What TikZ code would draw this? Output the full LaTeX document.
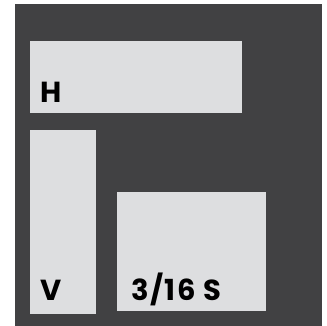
\documentclass[tikz,border=0pt]{standalone}
\usepackage{fontspec}
\setmainfont{Poppins}
\newfontfamily\tagfont[LetterSpace=5]{Poppins}
\usetikzlibrary{positioning}
\definecolor{panelgray}{RGB}{65,65,67}
\definecolor{boxgray}{RGB}{221,222,224}

\begin{document}
\begin{tikzpicture}[
        x=1pt, y=-1pt,
        box/.style={rectangle, fill=boxgray, inner sep=0pt, anchor=north west},
        tag/.style={font=\tagfont\fontsize{29}{29}\selectfont\bfseries, text=black, inner sep=0pt, anchor=base west}
    ]
        \useasboundingbox (0,0) rectangle (327,326);

        % Panel
        \fill[panelgray] (15,4) rectangle (322,326);

        % Boxes
        \node[box, minimum width=212pt, minimum height=72pt]  (hbox) at (30,41)   {};
        \node[box, minimum width=66pt,  minimum height=184pt] (vbox) at (30,130)  {};
        \node[box, minimum width=149pt, minimum height=119pt] (sbox) at (117,192) {};

        % Labels
        \node[tag] (hlabel) at (40,103) {H};
        \node[tag] (vlabel) at (40,301) {V};
        \node[tag] (slabel) at (131,301) {3/16 S};
    \end{tikzpicture}
\end{document}
